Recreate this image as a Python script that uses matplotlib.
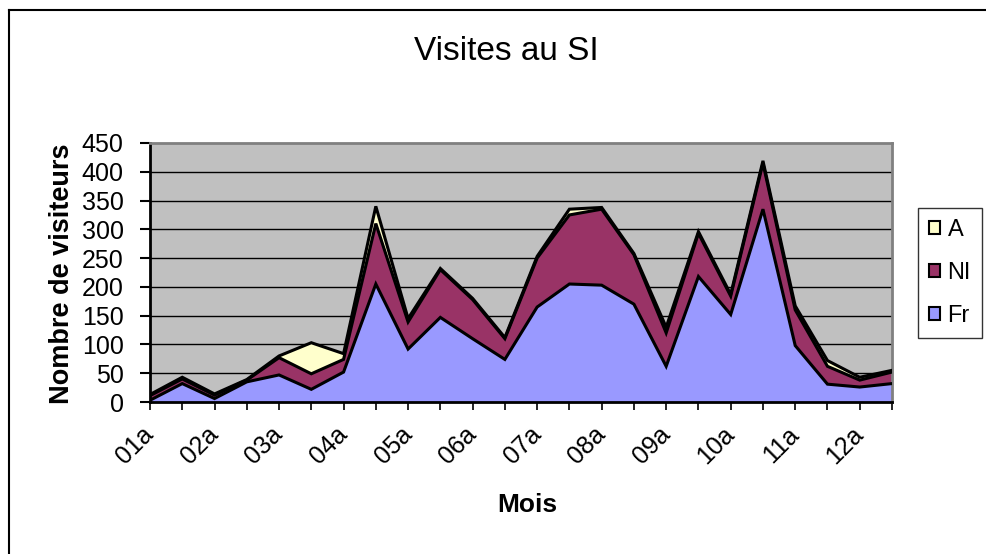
import matplotlib
matplotlib.use('Agg')
from matplotlib import pyplot as plt
from matplotlib.lines import Line2D
from matplotlib.patches import Patch
import numpy as np

plt.rcParams['font.family'] = ['Liberation Sans', 'DejaVu Sans']

# Months, two readings per month (a / b), only the "a" ones are labelled
months = ['01a', '01b', '02a', '02b', '03a', '03b', '04a', '04b',
          '05a', '05b', '06a', '06b', '07a', '07b', '08a', '08b',
          '09a', '09b', '10a', '10b', '11a', '11b', '12a', '12b']

# Visitors per origin (stacked: Fr at the bottom, then NI, then A)
fr = [3, 32, 6, 35, 47, 22, 52, 205, 92, 147, 110, 74,
      165, 205, 203, 170, 62, 218, 152, 335, 98, 31, 26, 32]
ni = [8, 8, 6, 3, 30, 27, 22, 105, 47, 83, 68, 36,
      85, 120, 132, 86, 58, 75, 32, 80, 62, 31, 12, 20]
a = [2, 3, 2, 1, 3, 54, 10, 30, 6, 2, 2, 2,
     3, 10, 3, 2, 10, 3, 3, 4, 7, 10, 5, 3]

series_names = ['A', 'NI', 'Fr']
series_colors = {'Fr': '#9999FF', 'NI': '#993366', 'A': '#FFFFCC'}

x = np.arange(len(months))
fr = np.array(fr)
ni = np.array(ni)
a = np.array(a)
level1 = fr
level2 = fr + ni
level3 = fr + ni + a

fig = plt.figure(figsize=(9.86, 5.54), dpi=100)
ax = fig.add_axes([150 / 986, 1 - 402 / 554, 742 / 986, 259 / 554])
ax.set_facecolor('#C0C0C0')

# grid lines behind the areas
for yv in range(50, 450, 50):
    ax.axhline(yv, color='black', lw=1, zorder=1)

# stacked areas
ax.fill_between(x, 0, level1, color=series_colors['Fr'], lw=0, zorder=2)
ax.fill_between(x, level1, level2, color=series_colors['NI'], lw=0, zorder=2)
ax.fill_between(x, level2, level3, color=series_colors['A'], lw=0, zorder=2)

# black outlines of the areas
for top in (level1, level2, level3):
    ax.plot(x, top, color='black', lw=2.2, zorder=3, solid_joinstyle='miter')

ax.set_xlim(0, len(months) - 1)
ax.set_ylim(0, 450)
ax.set_yticks(range(0, 451, 50))
ax.set_xticks(x)
ax.set_xticklabels([m if i % 2 == 0 else '' for i, m in enumerate(months)],
                   rotation=45, ha='right', rotation_mode='anchor', va='center')
ax.tick_params(axis='y', direction='out', length=7, width=1.5, labelsize=18, pad=12)
ax.tick_params(axis='x', direction='out', length=5.5, width=1.2, labelsize=18, pad=15)

for side in ('left', 'bottom'):
    ax.spines[side].set_color('black')
    ax.spines[side].set_linewidth(2)
for side in ('top', 'right'):
    ax.spines[side].set_color('#808080')
    ax.spines[side].set_linewidth(2)

# Titles
fig.text(506 / 986, 1 - 52 / 554, 'Visites au SI', fontsize=24, ha='center', va='center')
fig.text(527 / 986, 1 - 505 / 554, 'Mois', fontsize=19, fontweight='bold', ha='center', va='center')
fig.text(62 / 986, 1 - 274 / 554, 'Nombre de visiteurs', fontsize=19.5, fontweight='bold',
         rotation=90, ha='center', va='center')

# Legend
handles = [Patch(facecolor=series_colors[n], edgecolor='black', lw=1.5) for n in series_names]
leg = fig.legend(handles, series_names, loc='upper left',
                 bbox_to_anchor=(918 / 986, 1 - 208 / 554), fontsize=17,
                 handlelength=0.5, handleheight=0.5, handletextpad=0.3,
                 labelspacing=0.9, borderpad=0.45, fancybox=False, frameon=True,
                 borderaxespad=0)
leg.get_frame().set_edgecolor('black')
leg.get_frame().set_linewidth(1)

# outer frame of the chart (top and left edges visible)
fig.add_artist(Line2D([9 / 986, 1], [1 - 10 / 554, 1 - 10 / 554], color='black', lw=1.5))
fig.add_artist(Line2D([9 / 986, 9 / 986], [0, 1 - 10 / 554], color='black', lw=1.5))

fig.savefig('out.png', dpi=100)
